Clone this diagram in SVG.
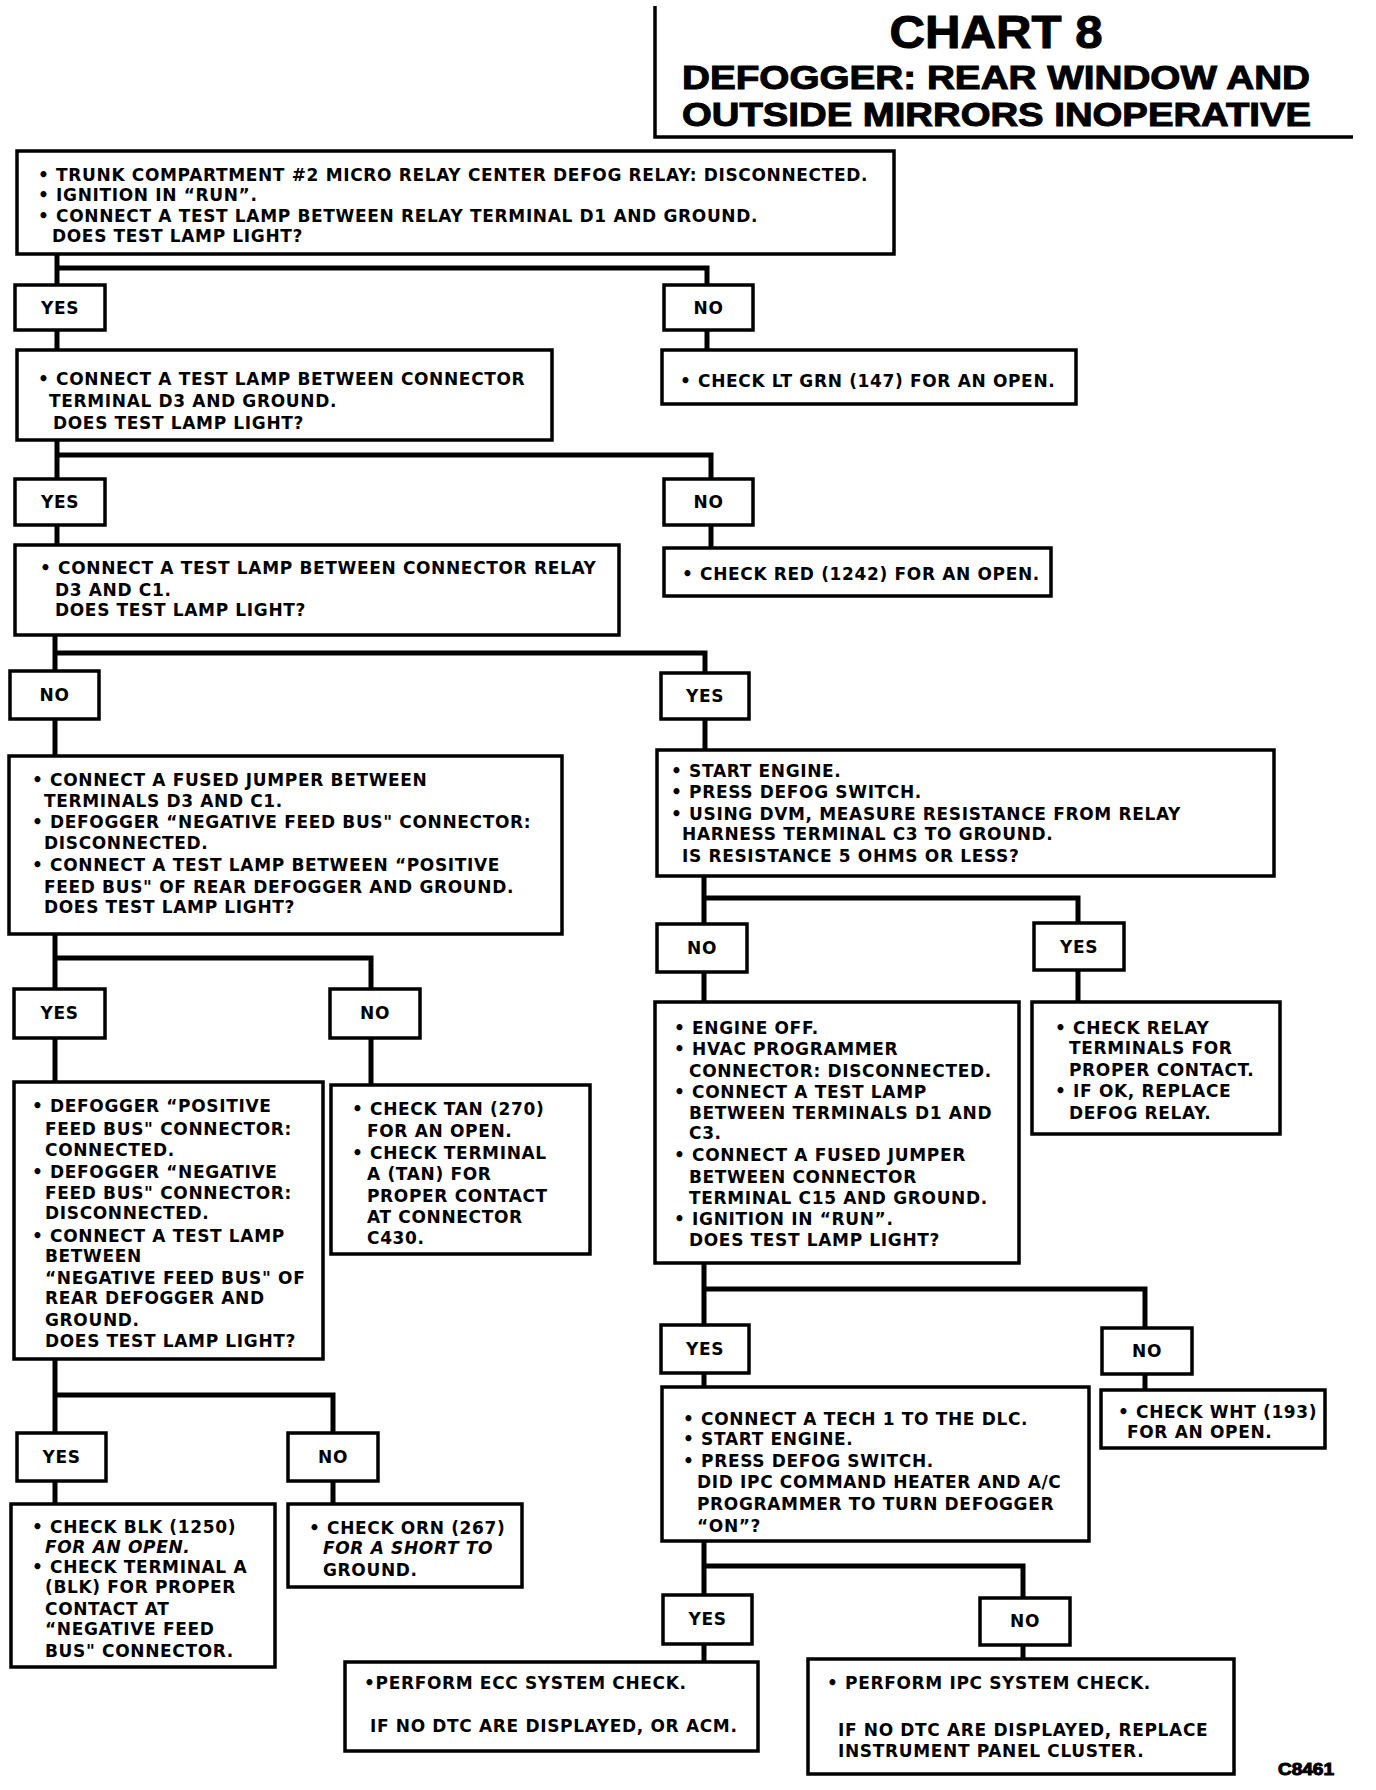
<svg xmlns="http://www.w3.org/2000/svg" width="1376" height="1790" viewBox="0 0 1376 1790">
<style>
.b{fill:#fff;stroke:#000;stroke-width:3.5}
.c{fill:none;stroke:#000;stroke-width:5;stroke-linejoin:miter}
.t{font-family:"DejaVu Sans",sans-serif;font-weight:bold;font-size:17px;letter-spacing:0.65px;fill:#000}
.i{font-style:italic}
.lb{font-family:"DejaVu Sans",sans-serif;font-weight:bold;font-size:17px;letter-spacing:0.65px;fill:#000;text-anchor:middle}
.h{font-family:"Liberation Sans",Arial,sans-serif;font-weight:bold;fill:#000;stroke:#000;stroke-width:1}
</style>
<rect width="1376" height="1790" fill="#fff"/>
<g id="title">
<path d="M655 6V137H1353" fill="none" stroke="#000" stroke-width="3.5"/>
<text class="h" x="996" y="48" font-size="46" text-anchor="middle" textLength="213" lengthAdjust="spacingAndGlyphs">CHART 8</text>
<text class="h" x="682" y="89" font-size="33" textLength="628" lengthAdjust="spacingAndGlyphs">DEFOGGER: REAR WINDOW AND</text>
<text class="h" x="682" y="126" font-size="33" textLength="629" lengthAdjust="spacingAndGlyphs">OUTSIDE MIRRORS INOPERATIVE</text>
</g>
<g id="connectors">
<path class="c" d="M57 254V285M57 268H707V285"/>
<path class="c" d="M57 330V350M707 330V350"/>
<path class="c" d="M57 440V479M57 455H711V479"/>
<path class="c" d="M57 525V545M711 525V548"/>
<path class="c" d="M55 635V671M55 653H705V673"/>
<path class="c" d="M55 719V756M705 719V750"/>
<path class="c" d="M704 876V924M704 898H1078V923"/>
<path class="c" d="M704 972V1002M1078 970V1002"/>
<path class="c" d="M55 934V989M55 958H371V989"/>
<path class="c" d="M55 1038V1082M371 1038V1085"/>
<path class="c" d="M704 1263V1325M704 1289H1145V1328"/>
<path class="c" d="M704 1373V1387M1145 1374V1390"/>
<path class="c" d="M55 1359V1433M55 1395H333V1433"/>
<path class="c" d="M55 1481V1504M333 1481V1504"/>
<path class="c" d="M704 1541V1595M704 1566H1023V1598"/>
<path class="c" d="M704 1644V1662M1023 1645V1659"/>
</g>
<g id="box1">
<rect class="b" x="17" y="151" width="877" height="103"/>
<text class="t" x="38" y="181">• TRUNK COMPARTMENT #2 MICRO RELAY CENTER DEFOG RELAY: DISCONNECTED.</text>
<text class="t" x="38" y="201">• IGNITION IN “RUN”.</text>
<text class="t" x="38" y="222">• CONNECT A TEST LAMP BETWEEN RELAY TERMINAL D1 AND GROUND.</text>
<text class="t" x="52" y="242">DOES TEST LAMP LIGHT?</text>
</g>
<g id="yes1"><rect class="b" x="15" y="285" width="90" height="45"/><text class="lb" x="60" y="314">YES</text></g>
<g id="no1"><rect class="b" x="664" y="285" width="89" height="45"/><text class="lb" x="708.5" y="314">NO</text></g>
<g id="box2">
<rect class="b" x="17" y="350" width="535" height="90"/>
<text class="t" x="38" y="385">• CONNECT A TEST LAMP BETWEEN CONNECTOR</text>
<text class="t" x="49" y="407">TERMINAL D3 AND GROUND.</text>
<text class="t" x="53" y="429">DOES TEST LAMP LIGHT?</text>
</g>
<g id="res1">
<rect class="b" x="662" y="350" width="414" height="54"/>
<text class="t" x="680" y="387">• CHECK LT GRN (147) FOR AN OPEN.</text>
</g>
<g id="yes2"><rect class="b" x="15" y="479" width="90" height="46"/><text class="lb" x="60" y="508">YES</text></g>
<g id="no2"><rect class="b" x="664" y="479" width="89" height="46"/><text class="lb" x="708.5" y="508">NO</text></g>
<g id="box3">
<rect class="b" x="15" y="545" width="604" height="90"/>
<text class="t" x="40" y="574">• CONNECT A TEST LAMP BETWEEN CONNECTOR RELAY</text>
<text class="t" x="55" y="596">D3 AND C1.</text>
<text class="t" x="55" y="616">DOES TEST LAMP LIGHT?</text>
</g>
<g id="res2">
<rect class="b" x="664" y="548" width="387" height="48"/>
<text class="t" x="682" y="580">• CHECK RED (1242) FOR AN OPEN.</text>
</g>
<g id="no3"><rect class="b" x="10" y="671" width="89" height="48"/><text class="lb" x="54.5" y="701">NO</text></g>
<g id="yes3"><rect class="b" x="661" y="673" width="88" height="46"/><text class="lb" x="705" y="702">YES</text></g>
<g id="box4">
<rect class="b" x="9" y="756" width="553" height="178"/>
<text class="t" x="32" y="786">• CONNECT A FUSED JUMPER BETWEEN</text>
<text class="t" x="44" y="807">TERMINALS D3 AND C1.</text>
<text class="t" x="32" y="828">• DEFOGGER “NEGATIVE FEED BUS" CONNECTOR:</text>
<text class="t" x="44" y="849">DISCONNECTED.</text>
<text class="t" x="32" y="871">• CONNECT A TEST LAMP BETWEEN “POSITIVE</text>
<text class="t" x="44" y="893">FEED BUS" OF REAR DEFOGGER AND GROUND.</text>
<text class="t" x="44" y="913">DOES TEST LAMP LIGHT?</text>
</g>
<g id="box5">
<rect class="b" x="657" y="750" width="617" height="126"/>
<text class="t" x="671" y="777">• START ENGINE.</text>
<text class="t" x="671" y="798">• PRESS DEFOG SWITCH.</text>
<text class="t" x="671" y="820">• USING DVM, MEASURE RESISTANCE FROM RELAY</text>
<text class="t" x="682" y="840">HARNESS TERMINAL C3 TO GROUND.</text>
<text class="t" x="682" y="862">IS RESISTANCE 5 OHMS OR LESS?</text>
</g>
<g id="no4"><rect class="b" x="657" y="924" width="90" height="48"/><text class="lb" x="702" y="954">NO</text></g>
<g id="yes4"><rect class="b" x="1034" y="923" width="90" height="47"/><text class="lb" x="1079" y="953">YES</text></g>
<g id="yes5"><rect class="b" x="14" y="989" width="91" height="49"/><text class="lb" x="59.5" y="1019">YES</text></g>
<g id="no5"><rect class="b" x="330" y="989" width="90" height="49"/><text class="lb" x="375" y="1019">NO</text></g>
<g id="box6">
<rect class="b" x="14" y="1082" width="309" height="277"/>
<text class="t" x="32" y="1112">• DEFOGGER “POSITIVE</text>
<text class="t" x="45" y="1135">FEED BUS" CONNECTOR:</text>
<text class="t" x="45" y="1156">CONNECTED.</text>
<text class="t" x="32" y="1178">• DEFOGGER “NEGATIVE</text>
<text class="t" x="45" y="1199">FEED BUS" CONNECTOR:</text>
<text class="t" x="45" y="1219">DISCONNECTED.</text>
<text class="t" x="32" y="1242">• CONNECT A TEST LAMP</text>
<text class="t" x="45" y="1262">BETWEEN</text>
<text class="t" x="45" y="1284">“NEGATIVE FEED BUS" OF</text>
<text class="t" x="45" y="1304">REAR DEFOGGER AND</text>
<text class="t" x="45" y="1326">GROUND.</text>
<text class="t" x="45" y="1347">DOES TEST LAMP LIGHT?</text>
</g>
<g id="box7">
<rect class="b" x="331" y="1085" width="259" height="169"/>
<text class="t" x="352" y="1115">• CHECK TAN (270)</text>
<text class="t" x="367" y="1137">FOR AN OPEN.</text>
<text class="t" x="352" y="1159">• CHECK TERMINAL</text>
<text class="t" x="367" y="1180">A (TAN) FOR</text>
<text class="t" x="367" y="1202">PROPER CONTACT</text>
<text class="t" x="367" y="1223">AT CONNECTOR</text>
<text class="t" x="367" y="1244">C430.</text>
</g>
<g id="box8">
<rect class="b" x="655" y="1002" width="364" height="261"/>
<text class="t" x="674" y="1034">• ENGINE OFF.</text>
<text class="t" x="674" y="1055">• HVAC PROGRAMMER</text>
<text class="t" x="689" y="1077">CONNECTOR: DISCONNECTED.</text>
<text class="t" x="674" y="1098">• CONNECT A TEST LAMP</text>
<text class="t" x="689" y="1119">BETWEEN TERMINALS D1 AND</text>
<text class="t" x="689" y="1139">C3.</text>
<text class="t" x="674" y="1161">• CONNECT A FUSED JUMPER</text>
<text class="t" x="689" y="1183">BETWEEN CONNECTOR</text>
<text class="t" x="689" y="1204">TERMINAL C15 AND GROUND.</text>
<text class="t" x="674" y="1225">• IGNITION IN “RUN”.</text>
<text class="t" x="689" y="1246">DOES TEST LAMP LIGHT?</text>
</g>
<g id="box9">
<rect class="b" x="1032" y="1002" width="248" height="132"/>
<text class="t" x="1055" y="1034">• CHECK RELAY</text>
<text class="t" x="1069" y="1054">TERMINALS FOR</text>
<text class="t" x="1069" y="1076">PROPER CONTACT.</text>
<text class="t" x="1055" y="1097">• IF OK, REPLACE</text>
<text class="t" x="1069" y="1119">DEFOG RELAY.</text>
</g>
<g id="yes6"><rect class="b" x="661" y="1325" width="88" height="48"/><text class="lb" x="705" y="1355">YES</text></g>
<g id="no6"><rect class="b" x="1102" y="1328" width="90" height="46"/><text class="lb" x="1147" y="1357">NO</text></g>
<g id="box10">
<rect class="b" x="662" y="1387" width="427" height="154"/>
<text class="t" x="683" y="1425">• CONNECT A TECH 1 TO THE DLC.</text>
<text class="t" x="683" y="1445">• START ENGINE.</text>
<text class="t" x="683" y="1467">• PRESS DEFOG SWITCH.</text>
<text class="t" x="697" y="1488">DID IPC COMMAND HEATER AND A/C</text>
<text class="t" x="697" y="1510">PROGRAMMER TO TURN DEFOGGER</text>
<text class="t" x="697" y="1532">“ON”?</text>
</g>
<g id="box11">
<rect class="b" x="1101" y="1390" width="224" height="58"/>
<text class="t" x="1118" y="1418">• CHECK WHT (193)</text>
<text class="t" x="1127" y="1438">FOR AN OPEN.</text>
</g>
<g id="yes7"><rect class="b" x="17" y="1433" width="89" height="48"/><text class="lb" x="61.5" y="1463">YES</text></g>
<g id="no7"><rect class="b" x="288" y="1433" width="90" height="48"/><text class="lb" x="333" y="1463">NO</text></g>
<g id="box12">
<rect class="b" x="11" y="1504" width="264" height="163"/>
<text class="t" x="32" y="1533">• CHECK BLK (1250)</text>
<text class="t i" x="45" y="1553">FOR AN OPEN.</text>
<text class="t" x="32" y="1573">• CHECK TERMINAL A</text>
<text class="t" x="45" y="1593">(BLK) FOR PROPER</text>
<text class="t" x="45" y="1615">CONTACT AT</text>
<text class="t" x="45" y="1635">“NEGATIVE FEED</text>
<text class="t" x="45" y="1657">BUS" CONNECTOR.</text>
</g>
<g id="box13">
<rect class="b" x="288" y="1504" width="234" height="83"/>
<text class="t" x="309" y="1534">• CHECK ORN (267)</text>
<text class="t i" x="323" y="1554">FOR A SHORT TO</text>
<text class="t" x="323" y="1576">GROUND.</text>
</g>
<g id="yes8"><rect class="b" x="663" y="1595" width="89" height="49"/><text class="lb" x="707.5" y="1625">YES</text></g>
<g id="no8"><rect class="b" x="980" y="1598" width="90" height="47"/><text class="lb" x="1025" y="1627">NO</text></g>
<g id="box14">
<rect class="b" x="345" y="1662" width="413" height="89"/>
<text class="t" x="364" y="1689">•PERFORM ECC SYSTEM CHECK.</text>
<text class="t" x="370" y="1732">IF NO DTC ARE DISPLAYED, OR ACM.</text>
</g>
<g id="box15">
<rect class="b" x="808" y="1659" width="426" height="115"/>
<text class="t" x="827" y="1689">• PERFORM IPC SYSTEM CHECK.</text>
<text class="t" x="838" y="1736">IF NO DTC ARE DISPLAYED, REPLACE</text>
<text class="t" x="838" y="1757">INSTRUMENT PANEL CLUSTER.</text>
</g>
<text class="h" x="1278" y="1775" font-size="16" stroke-width="0.3" textLength="56" lengthAdjust="spacingAndGlyphs">C8461</text>
</svg>
